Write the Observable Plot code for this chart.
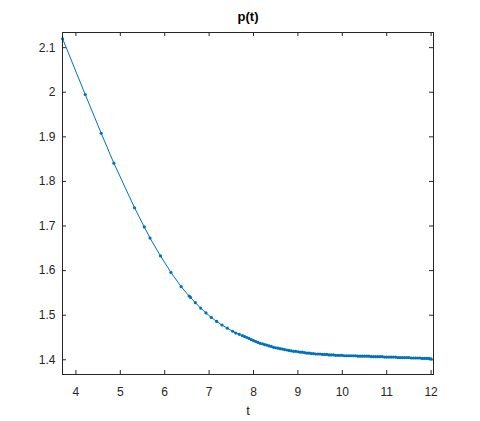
<!DOCTYPE html>
<html><head><meta charset="utf-8">
<script src="https://cdn.jsdelivr.net/npm/d3@7"></script>
<script src="https://cdn.jsdelivr.net/npm/@observablehq/plot@0.6"></script>
<style>body{margin:0;background:#fff}</style>
</head><body><div id="chart"></div>
<script>
const tValues = [3.70, 4.21, 4.57, 4.855, 5.32, 5.54, 5.67, 5.905, 6.14, 6.37, 6.55, 6.58, 6.69, 6.81, 6.93, 7.05, 7.17, 7.29, 7.41, 7.53, 7.60, 7.68,
  7.75, 7.80, 7.85, 7.90, 7.95, 8.00, 8.05, 8.10, 8.15, 8.20, 8.25, 8.30, 8.35, 8.40, 8.45, 8.50, 8.55, 8.60, 8.65, 8.70, 8.75, 8.80, 8.85, 8.90, 8.95,
  9.00, 9.05, 9.10, 9.15, 9.20, 9.25, 9.30, 9.35, 9.40, 9.45, 9.50, 9.55, 9.60, 9.65, 9.70, 9.75, 9.80, 9.85, 9.90, 9.95,
  10.00, 10.05, 10.10, 10.15, 10.20, 10.25, 10.30, 10.35, 10.40, 10.45, 10.50, 10.55, 10.60, 10.65, 10.70, 10.75, 10.80, 10.85, 10.90, 10.95,
  11.00, 11.05, 11.10, 11.15, 11.20, 11.25, 11.30, 11.35, 11.40, 11.45, 11.50, 11.55, 11.60, 11.65, 11.70, 11.75, 11.80, 11.85, 11.90, 11.95, 12.00];
const pValues = [2.120, 1.995, 1.908, 1.841, 1.741, 1.698, 1.673, 1.633, 1.596, 1.564, 1.543, 1.540, 1.528, 1.516, 1.505, 1.495, 1.486, 1.478, 1.471, 1.464, 1.460, 1.457,
  1.454, 1.452, 1.450, 1.448, 1.445, 1.443, 1.441, 1.439, 1.437, 1.436, 1.434, 1.433, 1.431, 1.430, 1.428, 1.427, 1.426, 1.425, 1.424, 1.423, 1.422, 1.421, 1.420, 1.419, 1.419,
  1.418, 1.417, 1.417, 1.416, 1.415, 1.415, 1.414, 1.414, 1.413, 1.413, 1.413, 1.412, 1.412, 1.412, 1.411, 1.411, 1.411, 1.410, 1.410, 1.410,
  1.410, 1.409, 1.409, 1.409, 1.409, 1.409, 1.409, 1.408, 1.408, 1.408, 1.408, 1.408, 1.408, 1.407, 1.407, 1.407, 1.407, 1.407, 1.407, 1.406,
  1.406, 1.406, 1.406, 1.406, 1.406, 1.405, 1.405, 1.405, 1.405, 1.405, 1.405, 1.404, 1.404, 1.404, 1.404, 1.404, 1.403, 1.403, 1.403, 1.403, 1.402];
const xTicks = [4, 5, 6, 7, 8, 9, 10, 11, 12];
const yTicks = [1.4, 1.5, 1.6, 1.7, 1.8, 1.9, 2.0, 2.1];
const titleText = "p(t)";
const xLabelText = "t";

const data = tValues.map((t, i) => ({t, p: pValues[i]}));
const W = 480, H = 421, mt = 32, mb = 47, ml = 62, mr = 47;
const frameH = H - mt - mb, frameW = W - ml - mr;
const tk = 4;
const ink = "#262626";
const blue = "#0072BD";

const chart = Plot.plot({
  width: W, height: H, marginTop: mt, marginBottom: mb, marginLeft: ml, marginRight: mr,
  style: {fontFamily: "'Liberation Sans', Arial, sans-serif", fontSize: "12px", color: ink, background: "#fff"},
  x: {domain: [3.698, 12.054]},
  y: {domain: [1.367, 2.134]},
  marks: [
    Plot.ruleX(xTicks, {x: d => d, stroke: ink, insetTop: frameH - tk}),
    Plot.ruleX(xTicks, {x: d => d, stroke: ink, insetBottom: frameH - tk}),
    Plot.ruleY(yTicks, {y: d => d, stroke: ink, insetRight: frameW - tk}),
    Plot.ruleY(yTicks, {y: d => d, stroke: ink, insetLeft: frameW - tk}),
    Plot.axisX(xTicks, {tickSize: 0, tickPadding: 13, label: null, fill: ink, fontSize: 12}),
    Plot.axisY(yTicks, {tickSize: 0, tickPadding: 7, label: null, fill: ink, fontSize: 12, tickFormat: d => String(+d.toFixed(1))}),
    Plot.line(data, {x: "t", y: "p", stroke: blue, strokeWidth: 1}),
    Plot.dot(data, {x: "t", y: "p", r: 1.6, fill: blue}),
    Plot.frame({stroke: ink}),
    Plot.text([titleText], {frameAnchor: "top", lineAnchor: "bottom", dy: -11.5, fontWeight: "bold", fontSize: 13, fill: "#000"}),
    Plot.text([xLabelText], {frameAnchor: "bottom", lineAnchor: "bottom", dy: 40, fontSize: 13, fill: ink})
  ]
});
document.getElementById("chart").appendChild(chart);
</script>
</body></html>
